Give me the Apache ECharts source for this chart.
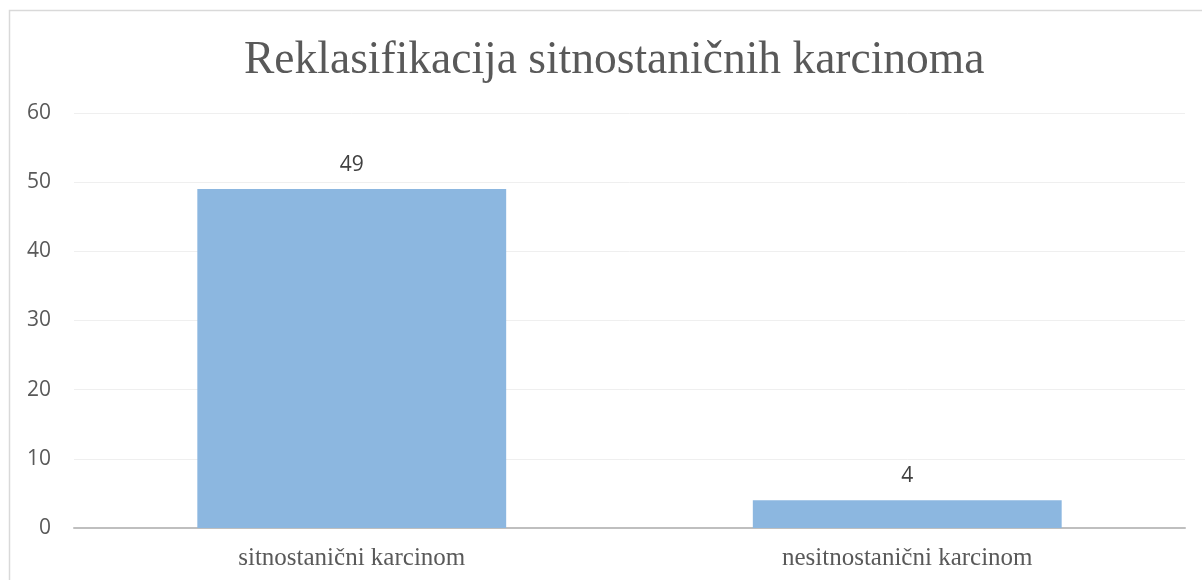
<!DOCTYPE html>
<html>
<head>
<meta charset="utf-8">
<script src="https://cdn.jsdelivr.net/npm/echarts@6/dist/echarts.min.js"></script>
<style>
html, body { margin: 0; padding: 0; background: #fff; }
#chart { width: 1202px; height: 580px; }
</style>
</head>
<body>
<div id="chart"></div>
<script>
var categories = ['sitnostanični karcinom', 'nesitnostanični karcinom'];
var values = [49, 4];
var yTicks = [0, 10, 20, 30, 40, 50, 60];

var myChart = echarts.init(document.getElementById('chart'));

var option = {
	backgroundColor: '#fff',
	animation: false,
	title: {
		text: 'Reklasifikacija sitnostaničnih karcinoma',
		left: 239,
		top: 33,
		textStyle: {
			fontFamily: 'Liberation Serif',
			fontWeight: 'normal',
			fontSize: 45.5,
			color: '#595959'
		}
	},
	graphic: [{
		type: 'rect',
		shape: { x: 9.5, y: 10.5, width: 1210, height: 600 },
		style: { fill: 'none', stroke: '#d9d9d9', lineWidth: 1.5 },
		silent: true
	}],
	grid: {
		left: 74,
		right: 17,
		top: 113,
		bottom: 52,
		containLabel: false
	},
	xAxis: {
		type: 'category',
		data: categories,
		axisTick: { show: false },
		axisLine: { lineStyle: { color: '#bfbfbf', width: 2 } },
		axisLabel: {
			margin: 18,
			fontFamily: 'Liberation Serif',
			fontSize: 25,
			color: '#595959'
		}
	},
	yAxis: {
		type: 'value',
		min: yTicks[0],
		max: yTicks[yTicks.length - 1],
		interval: 10,
		axisLine: { show: false },
		axisTick: { show: false },
		splitLine: { lineStyle: { color: '#efefef', width: 1 } },
		axisLabel: {
			margin: 23,
			fontFamily: 'Open Sans',
			fontSize: 21,
			color: '#595959'
		}
	},
	series: [{
		type: 'bar',
		data: values,
		barWidth: '55.6%',
		itemStyle: { color: '#8cb7e0' },
		label: {
			show: true,
			position: 'top',
			distance: 14,
			fontFamily: 'Open Sans',
			fontSize: 21,
			color: '#404040'
		}
	}]
};

myChart.setOption(option);
</script>
</body>
</html>
